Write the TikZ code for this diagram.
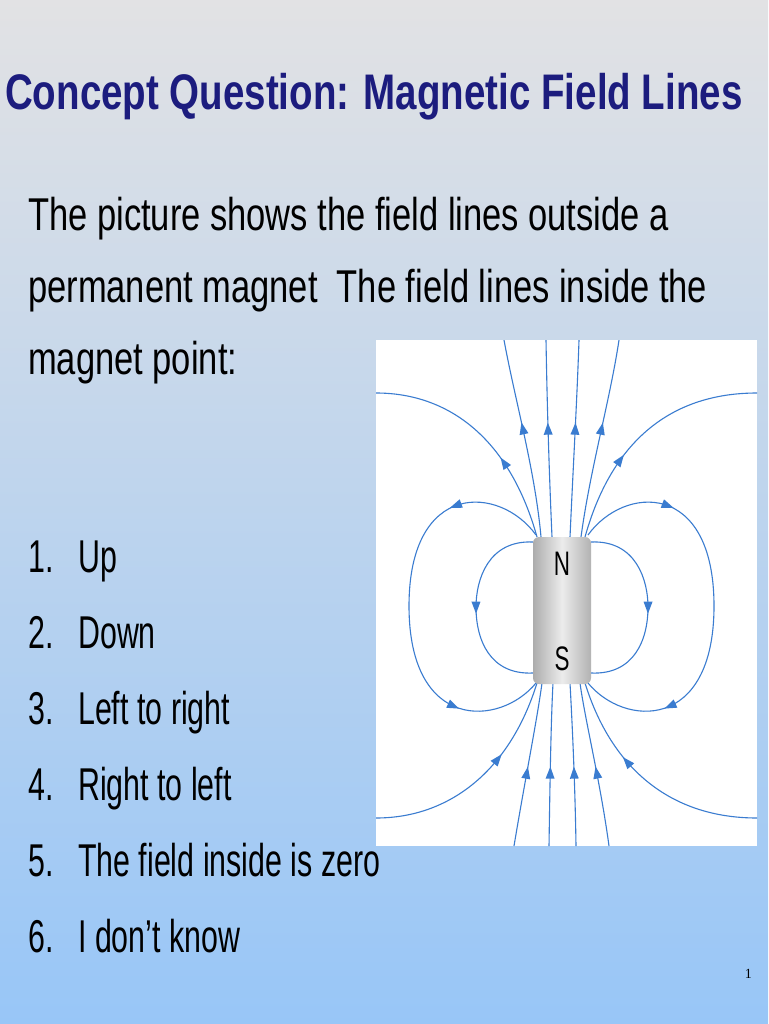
\documentclass[tikz,border=0pt]{standalone}
\usepackage{fontspec}
\setmainfont{Liberation Sans}
\newfontfamily\narrowfont[FakeStretch=0.75]{Liberation Sans}
\newfontfamily\titlefont[FakeStretch=0.77]{Liberation Sans}
\newfontfamily\listfont[FakeStretch=0.66]{Liberation Sans}
\newfontfamily\pgfont{Liberation Serif}
\usetikzlibrary{decorations.markings}
\definecolor{titleblue}{HTML}{1C1C7E}
\definecolor{fieldblue}{HTML}{3A7CD0}
\definecolor{bgtop}{HTML}{E2E2E4}
\definecolor{bgbot}{HTML}{98C6F7}
\newcommand{\fieldtip}{\fill[fieldblue] (6pt,0pt) -- (-6pt,4.5pt) -- (-6pt,-4.5pt) -- cycle;}
\begin{document}
\begin{tikzpicture}[x=1pt,y=-1pt,
  fl/.style={draw=fieldblue,line width=1.1pt},
  am/.style={postaction={decorate},decoration={markings,mark=at position #1 with {\fieldtip}}},
  am/.default=0.5,
  am2/.style={postaction={decorate},decoration={markings,mark=at position 0.22 with {\fieldtip},mark=at position 0.78 with {\fieldtip}}},
  body/.style={anchor=base west,inner sep=0pt,font=\narrowfont\fontsize{46}{50}\selectfont,text=black},
  item/.style={anchor=base west,inner sep=0pt,font=\listfont\fontsize{46}{50}\selectfont,text=black}]
\shade[top color=bgtop,bottom color=bgbot] (0,0) rectangle (768,1024);
\useasboundingbox (0,0) rectangle (768,1024);
\node[anchor=base west,inner sep=0pt,text=titleblue,font=\titlefont\bfseries\fontsize{50}{56}\selectfont] (title) at (5,110) {Concept Question: Magnetic Field Lines};
\node[body] (l1) at (28,230) {The picture shows the field lines outside a};
\node[body] (l2) at (28,302) {permanent magnet\ \ The field lines inside the};
\node[body] (l3) at (28,374) {magnet point:};
\foreach \n/\t/\y in {1/Up/572,2/Down/648,3/Left to right/724,4/Right to left/800,5/The field inside is zero/876,6/I don’t know/952}{
  \node[item] (n\n) at (28,\y) {\n.};
  \node[item] (t\n) at (78,\y) {\t};
}
\node[anchor=base east,inner sep=0pt,font=\pgfont\fontsize{14}{16}\selectfont] (pg) at (752,978) {1};
\fill[white] (376,340) rectangle (757,846);
\begin{scope}
\clip (376,340) rectangle (757,846);
\draw[fl,am=0.55] (541,537) .. controls (535,470) and (515,400) .. (504,340);
\draw[fl,am=0.55] (552,537) .. controls (549,470) and (547,400) .. (546,340);
\draw[fl,am=0.55] (570,537) .. controls (573,470) and (577,400) .. (579,340);
\draw[fl,am=0.55] (581,537) .. controls (590,470) and (610,400) .. (619,340);
\draw[fl,am=0.45] (514,846) .. controls (525,780) and (537,720) .. (542,683);
\draw[fl,am=0.45] (549,846) .. controls (550,780) and (551,720) .. (553,683);
\draw[fl,am=0.45] (576,846) .. controls (575,780) and (572,720) .. (570,683);
\draw[fl,am=0.45] (609,846) .. controls (600,780) and (585,720) .. (580,683);
\draw[fl,am=0.35] (537,537) .. controls (510,440) and (450,393) .. (376,393);
\draw[fl,am=0.35] (585,537) .. controls (612,440) and (672,393) .. (757,393);
\draw[fl,am=0.62] (376,818) .. controls (450,818) and (510,770) .. (537,683);
\draw[fl,am=0.62] (757,818) .. controls (672,818) and (612,770) .. (585,683);
\draw[fl,am2] (536,535) .. controls (500,485) and (409,480) .. (409,606) .. controls (409,732) and (500,727) .. (536,683);
\draw[fl,am2] (588,535) .. controls (624,485) and (714,480) .. (714,606) .. controls (714,732) and (624,727) .. (588,683);
\draw[fl,am] (533,542) .. controls (488,540) and (476,580) .. (476,607) .. controls (476,640) and (490,675) .. (533,673);
\draw[fl,am] (591,542) .. controls (636,540) and (648,580) .. (648,607) .. controls (648,640) and (634,675) .. (591,673);
\end{scope}
\shade[left color=gray!65,right color=gray!60,middle color=gray!15,rounded corners=6pt] (533,537) rectangle (591,684);
\node[font=\listfont\fontsize{34}{36}\selectfont] (N) at (562,564) {N};
\node[font=\listfont\fontsize{34}{36}\selectfont] (S) at (562,659) {S};
\end{tikzpicture}
\end{document}
